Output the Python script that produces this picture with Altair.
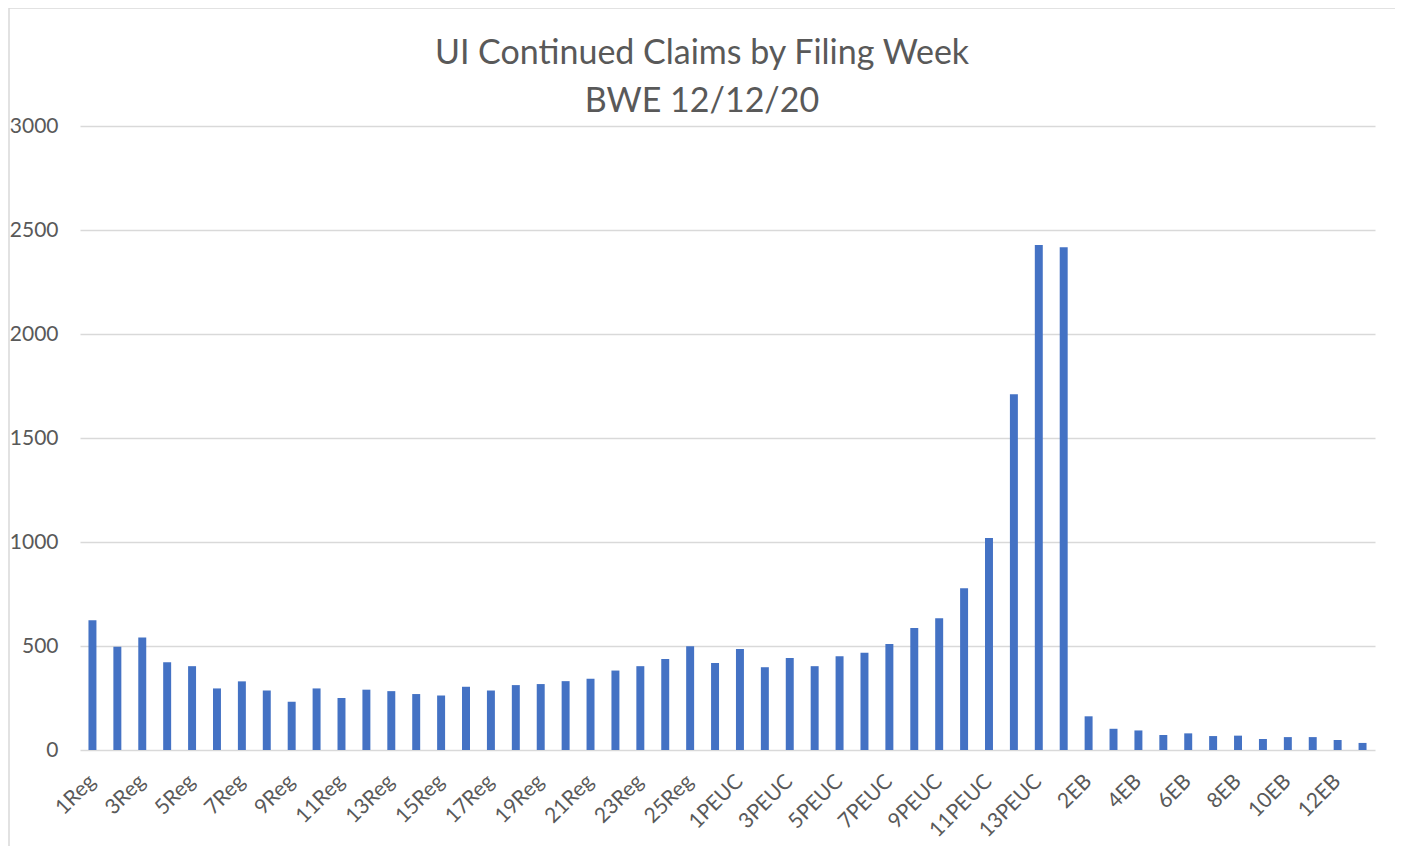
import altair as alt
import pandas as pd

weeks = [
    "1Reg", "2Reg", "3Reg", "4Reg", "5Reg", "6Reg", "7Reg", "8Reg", "9Reg", "10Reg",
    "11Reg", "12Reg", "13Reg", "14Reg", "15Reg", "16Reg", "17Reg", "18Reg", "19Reg", "20Reg",
    "21Reg", "22Reg", "23Reg", "24Reg", "25Reg", "26Reg",
    "1PEUC", "2PEUC", "3PEUC", "4PEUC", "5PEUC", "6PEUC", "7PEUC", "8PEUC", "9PEUC", "10PEUC",
    "11PEUC", "12PEUC", "13PEUC",
    "1EB", "2EB", "3EB", "4EB", "5EB", "6EB", "7EB", "8EB", "9EB", "10EB", "11EB", "12EB", "13EB",
]
reg_claims = [624, 496, 541, 422, 403, 296, 330, 286, 232, 296, 250, 290, 283, 269, 262,
              304, 286, 312, 317, 331, 342, 382, 403, 437, 499, 418]
peuc_claims = [485, 398, 442, 403, 451, 467, 510, 586, 634, 778, 1019, 1710, 2428]
eb_claims = [2417, 162, 102, 94, 72, 80, 67, 69, 53, 62, 62, 48, 34]
shown_labels = ["1Reg", "3Reg", "5Reg", "7Reg", "9Reg", "11Reg", "13Reg", "15Reg", "17Reg",
                "19Reg", "21Reg", "23Reg", "25Reg", "1PEUC", "3PEUC", "5PEUC", "7PEUC",
                "9PEUC", "11PEUC", "13PEUC", "2EB", "4EB", "6EB", "8EB", "10EB", "12EB"]
y_ticks = [0, 500, 1000, 1500, 2000, 2500, 3000]
title_lines = ["UI Continued Claims by Filing Week", "BWE 12/12/20"]

df = pd.DataFrame({"week": weeks, "claims": reg_claims + peuc_claims + eb_claims})

FONT = "Lato"
TXT = "#595959"
GRID = "#d9d9d9"

bars = alt.Chart(df).mark_bar(color="#4472C4").encode(
    x=alt.X("week:N", sort=weeks,
            scale=alt.Scale(paddingInner=0.68, paddingOuter=0.34),
            axis=alt.Axis(title=None, values=shown_labels, labelAngle=-45,
                          labelAlign="right", labelBaseline="middle",
                          ticks=False, domain=False, grid=False,
                          labelFont=FONT, labelFontSize=21, labelColor=TXT,
                          labelPadding=28, labelLimit=300)),
    y=alt.Y("claims:Q", scale=alt.Scale(domain=[0, 3000], nice=False),
            axis=alt.Axis(title=None, values=y_ticks, format="d", ticks=False, domain=False,
                          gridColor=GRID, gridWidth=1.5,
                          labelFont=FONT, labelFontSize=21, labelColor=TXT,
                          labelPadding=22)),
)

frame = alt.Chart(alt.Data(values=[{}])).mark_rect(
    filled=False, stroke=GRID, strokeWidth=1.5
).encode(
    x=alt.value(-71), x2=alt.value(1317), y=alt.value(-118), y2=alt.value(800)
)

title1 = alt.Chart(alt.Data(values=[{}])).mark_text(
    font=FONT, fontSize=34, color=TXT, align="center", baseline="middle"
).encode(x=alt.value(622), y=alt.value(-72), text=alt.value(title_lines[0]))

title2 = alt.Chart(alt.Data(values=[{}])).mark_text(
    font=FONT, fontSize=34, color=TXT, align="center", baseline="middle"
).encode(x=alt.value(622), y=alt.value(-24), text=alt.value(title_lines[1]))

chart = alt.layer(frame, bars, title1, title2).properties(
    width=1295,
    height=624,
    autosize=alt.AutoSizeParams(type="none"),
    padding={"left": 72, "top": 118, "right": 20, "bottom": 110},
).configure_view(stroke=None)

chart.save("out.html", embed_options={"renderer": "svg", "actions": False})
